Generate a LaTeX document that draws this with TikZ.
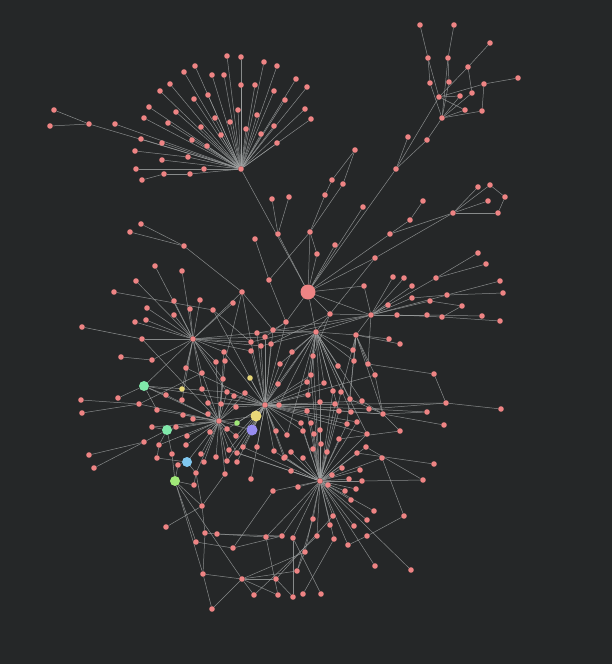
\documentclass[tikz,border=0pt]{standalone}
\definecolor{bgc}{RGB}{37,39,40}
\definecolor{nodec}{RGB}{238,132,132}
\definecolor{edgec}{RGB}{160,163,163}
\definecolor{mintc}{RGB}{128,232,170}
\definecolor{lbluec}{RGB}{128,200,240}
\definecolor{lgreenc}{RGB}{160,232,120}
\definecolor{yellowc}{RGB}{232,216,120}
\definecolor{purplec}{RGB}{150,140,240}
\pgfdeclarelayer{bgl}
\pgfdeclarelayer{edl}
\pgfsetlayers{bgl,edl,main}
\begin{document}
\begin{tikzpicture}[x=1pt,y=-1pt,
  nd/.style={circle,fill=nodec,inner sep=0pt,minimum size=5.6pt},
  ed/.style={draw=edgec,line width=0.5pt,opacity=0.8}]
\useasboundingbox (0,0) rectangle (612,664);
\begin{pgfonlayer}{bgl}
\fill[bgc] (0,0) rectangle (612,664);
\end{pgfonlayer}
% fan cluster
\foreach \n/\x/\y in {f0/241/169,f1/227/56,f2/241/57,f3/264/62,f4/277/66,f5/195/66,f6/184/72,f7/212/75,f8/224/75,f9/296/79,f10/307/87,f11/170/84,f12/160/91,f13/241/85,f14/255/85,f15/274/91,f16/208/95,f17/194/99,f18/285/100,f19/149/107,f20/305/109,f21/238/110,f22/176/112,f23/257/115,f24/144/118,f25/215/118,f26/311/119,f27/168/123,f28/230/122,f29/201/127,f30/274/126,f31/246/129,f32/221/135,f33/261/134,f34/141/139,f35/192/140,f36/162/143,f37/277/143,f38/207/146,f39/135/151,f40/188/157,f41/162/160,f42/204/169,f43/136/169,f44/164/174,f45/190/174,f46/142/180,f47/115/124,f48/89/124,f49/54/110,f50/50/126}
  \node[nd] (\n) at (\x,\y) {};
% top right cluster
\foreach \n/\x/\y in {t1/420/25,t2/454/25,t3/490/43,t4/428/58,t5/448/58,t6/468/67,t7/430/83,t8/449/82,t9/484/84,t10/518/78,t11/439/97,t12/460/96,t13/472/93,t14/465/110,t15/482/111,t16/442/118,t17/408/137,t18/427/140,t19/396/169}
  \node[nd] (\n) at (\x,\y) {};
% upper middle
\foreach \n/\x/\y in {u1/355/150,u2/332/180,u3/343/184,u4/325/195,u5/310/232,u6/363/207,u7/272/199,u8/289/197,u9/255/239,u10/278/234,u12/317/254,u13/335/245,u14/390/234,u15/375/258,u16/410/220,u17/423/201,u18/453/213,u19/478/187,u20/490/185,u21/505/197,u22/488/201,u23/498/213,g1/184/246,g2/141/224,g3/130/232}
  \node[nd] (\n) at (\x,\y) {};
% right cluster
\foreach \n/\x/\y in {r0/371/315,r1/478/253,r2/486/264,r3/393/277,r4/404/278,r5/436/278,r6/364/286,r7/412/286,r8/500/281,r9/503/293,r10/447/295,r11/412/298,r12/430/301,r13/388/305,r14/462/306,r15/397/315,r16/427/315,r17/442/317,r18/482/316,r19/500/321}
  \node[nd] (\n) at (\x,\y) {};
% center
\foreach \n/\x/\y in {c1/136/281,c2/114/292,c3/155/266,c4/182/271,c5/242/292,c6/233/303,c7/174/301,c8/200/300,c9/147/308,c10/190/309,c11/213/310,c12/174/315,c13/146/320,c14/135/322,c15/82/327,H2/193/339,c16/142/339,c17/121/357,c18/152/360,c19/186/368,c20/269/280,c21/286/322,c22/330/314,c23/257/333,c24/273/330,c25/265/337,c26/251/342,c27/261/346,c28/271/344,c29/316/332,c30/356/335,c31/389/339,c32/400/344,c33/251/351,c34/292/352,c35/224/352,c36/313/356,c37/353/350,c38/216/362,c39/225/361,c40/280/364,c41/338/366,c42/354/361,c43/368/364,c44/202/373,c45/223/379,c47/278/384,c48/311/375,c49/307/382,c50/324/383,c51/375/375,c52/434/374,c55/166/395,c56/202/389,c57/227/392,c58/234/396,c59/245/393,c60/81/400,c61/118/398,c62/139/404,c63/182/400,c64/208/403,c65/221/404,c66/236/407,H3/265/405,c67/279/405,c68/82/413,c69/157/410,c70/183/415,c71/208/414,c72/193/419,H4/219/421,c75/152/427,c77/176/427,c78/210/432,c79/227/429,c81/276/431,c82/287/435,c83/144/442,c84/187/436,c85/236/436,c86/159/445,c87/186/445,c88/229/450,c89/243/447,c90/257/447,c91/274/451,c92/89/455,c93/172/454,c94/201/454,c95/216/457,c96/237/453,c97/284/458,c98/157/458,c100/204/462,c101/227/461,c102/237/462,c103/94/468,c104/178/465,c105/196/473,c106/225/474,c107/251/479,c109/194/485,c110/273/491,c111/202/506}
  \node[nd] (\n) at (\x,\y) {};
% right of center / lower right
\foreach \n/\x/\y in {d1/333/391,d2/341/392,d3/308/395,d4/320/402,d5/335/404,d6/350/399,d7/362/401,d8/307/411,d9/339/411,d10/351/412,d11/369/409,d12/383/414,d13/427/412,d14/446/403,d15/501/409,d16/444/425,d17/357/422,d18/301/423,d19/311/423,d20/347/424,d21/400/431,d22/303/431,d23/314/434,d24/320/430,d25/367/434,d26/339/439,d27/321/444,d28/366/447,d29/313/449,d30/327/452,d31/357/453,d32/303/458,d33/382/458,d34/434/464,d35/342/468,d36/360/470,d37/332/475,d38/349/479,d39/423/480,H5/320/481,d40/362/481,d41/328/485,d42/345/491,d43/356/489,d44/351/500,d45/291/452,d46/285/457,d47/291/471,d48/298/487}
  \node[nd] (\n) at (\x,\y) {};
% bottom
\foreach \n/\x/\y in {e1/166/527,e2/313/519,e3/333/516,e4/374/511,e5/367/520,e6/404/516,e7/330/525,e8/354/526,e9/205/533,e10/217/534,e11/266/537,e12/282/536,e13/293/538,e14/317/536,e15/334/539,e16/367/536,e17/348/545,e18/196/542,e19/233/548,e20/305/552,e21/375/566,e22/411/570,e23/203/574,e24/242/579,e25/276/579,e26/297/571,e27/254/595,e28/278/595,e29/293/597,e30/303/594,e31/321/594,e32/212/609}
  \node[nd] (\n) at (\x,\y) {};
% special nodes
\node[circle,fill=nodec,inner sep=0pt,minimum size=15pt] (B) at (308,292) {};
\node[circle,fill=mintc,inner sep=0pt,minimum size=10pt] (c53) at (144,386) {};
\node[circle,fill=mintc,inner sep=0pt,minimum size=10pt] (c76) at (167,430) {};
\node[circle,fill=yellowc,inner sep=0pt,minimum size=11pt] (c74) at (256,416) {};
\node[circle,fill=purplec,inner sep=0pt,minimum size=11pt] (c80) at (252,430) {};
\node[circle,fill=lbluec,inner sep=0pt,minimum size=10pt] (c99) at (187,462) {};
\node[circle,fill=lgreenc,inner sep=0pt,minimum size=10pt] (c108) at (175,481) {};
\node[circle,fill=yellowc,inner sep=0pt,minimum size=5.6pt] (c54) at (182,389) {};
\node[circle,fill=yellowc,inner sep=0pt,minimum size=5.6pt] (c46) at (250,378) {};
\node[circle,fill=lgreenc,inner sep=0pt,minimum size=5.6pt] (c73) at (237,423) {};
\begin{pgfonlayer}{edl}
% fan edges
\foreach \b in {f1,f2,f3,f4,f5,f6,f7,f8,f9,f10,f11,f12,f13,f14,f15,f16,f17,f18,f19,f20,f21,f22,f23,f24,f25,f26,f27,f28,f29,f30,f31,f32,f33,f34,f35,f36,f37,f38,f40,f41,f42,f45,f47,f48,B}
  \draw[ed] (f0) -- (\b);
\foreach \a/\b in {f39/f40,f43/f42,f46/f44,f44/f45,f49/f48,f50/f48}
  \draw[ed] (\a) -- (\b);
% top right edges
\foreach \a/\b in {t1/t4,t2/t5,t4/t11,t4/t7,t5/t8,t5/t16,t3/t6,t6/t11,t6/t13,t10/t9,t9/t15,t9/t11,t11/t12,t11/t14,t7/t16,t8/t16,t12/t16,t13/t16,t14/t16,t15/t16,t11/t19,t16/t18,t18/t19,t17/t19,t19/B}
  \draw[ed] (\a) -- (\b);
% upper middle edges
\foreach \a/\b in {u1/u2,u1/u3,u2/u4,u4/u5,u3/u5,u5/B,u6/B,u7/u10,u8/u10,u10/B,u9/c20,c20/u5,u12/u5,u12/B,u13/B,u14/B,u15/B,u15/c22,u17/u16,u16/u14,u18/u14,u18/u15,u19/u18,u20/u18,u20/u21,u21/u23,u22/u18,u23/u18,g2/g1,g3/g1,g1/c5}
  \draw[ed] (\a) -- (\b);
% right edges
\foreach \a/\b in {r1/r5,r2/r5,r5/r0,r8/r10,r9/r10,r10/r0,r14/r12,r12/r0,r14/r17,r17/r15,r18/r16,r16/r15,r15/r0,r19/r17,r3/r0,r4/r0,r7/r0,r11/r0,r13/r0,r6/r0,r6/B,r0/B,r0/c30,r0/c29,r0/c22,r10/r11,r0/c23,r0/c26}
  \draw[ed] (\a) -- (\b);
% H2 star
\foreach \b in {c3,c4,c1,c7,c8,c9,c10,c12,c13,c14,c16,c18,c19,c44,c6,c5,c23,c26,c35,c38,c53,c56,c63,c54,c33,c45,c27,c57,c25}
  \draw[ed] (H2) -- (\b);
% center misc
\foreach \a/\b in {c2/c11,c11/c26,c15/c16,c17/c18,c20/c21,c21/B,c21/c24,c21/H3,c22/B,c22/c29,c22/c36,c23/c29,c23/H3,c24/c5,c24/H3,c24/c29,c25/H3,c25/c21,c26/c5,c26/H3,c27/H3,c27/c29,c28/H3,c28/c22,c29/B,c29/c30,c29/c34,c29/c36,c29/c40,c29/c48,c29/c49,c29/H3,c29/c41,c30/c31,c30/c32,c30/c37,c33/H3,c34/H3,c35/H3,c36/H5,c37/c29,c38/H4,c39/H4,c39/c5,c40/H3,c42/c30,c42/c29,c43/c30,c43/c52,c43/r0,c44/H4,c45/H4,c46/H3,c47/H3,c47/c29,c48/H3,c48/H5,c49/H3,c50/c29,c50/H3,c51/c30,c51/H3,c51/d12,c52/d14,c53/c55,c53/c61,c53/H4,c53/c69,c55/H4,c56/H4,c57/H4,c57/H3,c58/H4,c58/H3,c59/H3,c59/H4,c60/c62,c62/c44,c62/H4,c68/c62,c64/H4,c64/H3,c65/H4,c65/H3,c66/H3,c66/H4,c67/H3,c67/c29,c69/H4,c70/H4,c71/H4,c72/H4,c73/H4,c73/H3,c74/H3,c74/H4,c74/c80,c75/c76,c75/H4,c76/H4,c76/c83,c76/c86,c76/c93,c76/c77,c77/H4,c78/H4,c79/H4,c79/H3,c80/H3,c80/H4,c81/H3,c82/H3,c82/c29,c83/c92,c84/H4,c85/H4,c85/H3,c86/H4,c87/H4,c88/H4,c88/H3,c89/H3,c90/H3,c91/H3,c91/H5,c93/c108,c94/H4,c95/H4,c96/H3,c96/H4,c97/H3,c97/H5,c98/c99,c98/c86,c99/H4,c99/c104,c99/c105,c100/H4,c101/H4,c101/H3,c102/H3,c103/c83,c104/c108,c105/H4,c105/c111,c106/H4,c106/c111,c107/H3,c108/c111,c109/c108,c109/c105,c110/H5,c110/e19,c35/H4,c11/H3,c57/c53,c53/H3,c16/H4,c19/H3,H3/d7,H3/d10,H3/d17,H3/d25,H3/d14}
  \draw[ed] (\a) -- (\b);
% d edges
\foreach \a/\b in {d1/c29,d1/H5,d2/c30,d2/H5,d3/H3,d3/c29,d4/H5,d4/c29,d5/H5,d5/H3,d6/c30,d6/d12,d7/d12,d7/c29,d8/H3,d8/H5,d9/H5,d10/c29,d10/d12,d11/d14,d11/H3,d12/d13,d12/d16,d12/H3,d12/c30,d14/d15,d17/H5,d18/H3,d18/H5,d19/H5,d20/H3,d20/H5,d21/d26,d21/d12,d22/H5,d22/H3,d23/H5,d24/H5,d25/H5,d25/c29,d26/H5,d27/H5,d28/d39,d28/H5,d29/H5,d30/H5,d31/H5,d31/d34,d32/H5,d33/H5,d33/e6,d35/H5,d36/H5,d37/H5,d38/H5,d39/d40,d40/H5,d41/H5,d42/H5,d43/H5,d44/H5,d45/H5,d46/H5,d46/H3,d47/H5,d48/H5,H5/c89,H5/c88,H5/c96,d13/d11,d6/c29,d9/c29,d20/c30}
  \draw[ed] (\a) -- (\b);
% bottom edges
\foreach \a/\b in {c108/e18,c108/e23,c108/e24,c111/e9,c111/e1,e9/e10,e10/e12,e10/e11,e18/e19,e11/H5,e12/H5,e13/H5,e11/e12,e23/e9,e23/e24,e24/e27,e24/e28,e24/e32,e24/e25,e24/e26,e24/e20,e32/e23,e25/e3,e26/e20,e26/e2,e20/H5,e27/e14,e28/e11,e29/e13,e29/e25,e30/e15,e31/e13,e22/H5,e21/H5,e6/e16,e16/e17,e17/H5,e4/H5,e5/H5,e2/H5,e3/H5,e7/H5,e8/H5,e14/H5,e15/H5,e19/e12}
  \draw[ed] (\a) -- (\b);
\end{pgfonlayer}
\end{tikzpicture}
\end{document}
